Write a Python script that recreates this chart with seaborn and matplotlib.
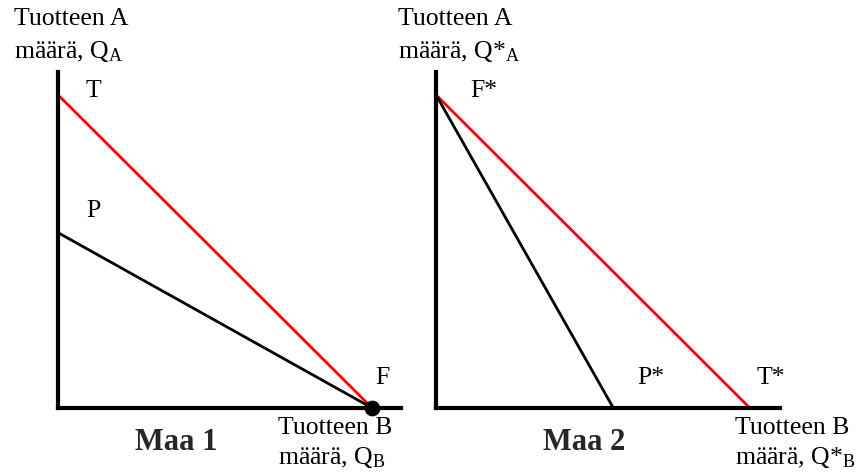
import matplotlib
matplotlib.use("Agg")
import matplotlib.pyplot as plt
import seaborn as sns

# Maa 1: tuotantomahdollisuudet (P) ja kauppasuora (T), F = erikoistumispiste
maa1_x = [0, 100]
maa1_trade_y = [100, 0]
maa1_prod_y = [56, 0]
maa1_F = (100, 0)

# Maa 2
maa2_trade_x = [0, 100]
maa2_trade_y = [100, 0]
maa2_prod_x = [0, 56.5]
maa2_prod_y = [100, 0]

sns.set_theme(style="white")
plt.rcParams["font.family"] = ["Liberation Serif", "DejaVu Serif"]
plt.rcParams["mathtext.fontset"] = "custom"
plt.rcParams["mathtext.rm"] = "Liberation Serif"
plt.rcParams["mathtext.it"] = "Liberation Serif:italic"
plt.rcParams["mathtext.bf"] = "Liberation Serif:bold"

W, H = 858, 475
fig = plt.figure(figsize=(W / 100, H / 100), dpi=100)


def px(x, y):
    return x / W, 1 - y / H


ax1 = fig.add_axes([58 / W, 67 / H, 343 / W, 336 / H])
ax2 = fig.add_axes([436 / W, 67 / H, 344 / W, 336 / H])

sns.lineplot(x=maa1_x, y=maa1_trade_y, ax=ax1, color="#ff0000", linewidth=2)
sns.lineplot(x=maa1_x, y=maa1_prod_y, ax=ax1, color="black", linewidth=2)
sns.scatterplot(x=[maa1_F[0]], y=[maa1_F[1]], ax=ax1, color="black", s=110,
                clip_on=False, zorder=5, edgecolor="black")

sns.lineplot(x=maa2_trade_x, y=maa2_trade_y, ax=ax2, color="#ff0000", linewidth=2)
sns.lineplot(x=maa2_prod_x, y=maa2_prod_y, ax=ax2, color="black", linewidth=2)

for ax, xmax in ((ax1, 109.2), (ax2, 109.6)):
    ax.set_xlim(0, xmax)
    ax.set_ylim(0, 107.3)
    ax.set_xticks([])
    ax.set_yticks([])
    for s in ("top", "right"):
        ax.spines[s].set_visible(False)
    for s in ("left", "bottom"):
        ax.spines[s].set_color("black")
        ax.spines[s].set_linewidth(3)
    ax.patch.set_alpha(0)

fs = 18.5
txt = dict(fontsize=fs, color="black", va="center", ha="left")

# akselien nimet
fig.text(*px(14, 19), "Tuotteen A", **txt)
fig.text(*px(14, 51), r"määrä, $\mathrm{Q}_\mathrm{A}$", **txt)
fig.text(*px(398, 19), "Tuotteen A", **txt)
fig.text(*px(398, 51), r"määrä, $\mathrm{Q}\text{*}_\mathrm{A}$", **txt)

fig.text(*px(278, 428), "Tuotteen B", **txt)
fig.text(*px(278, 458), r"määrä, $\mathrm{Q}_\mathrm{B}$", **txt)
fig.text(*px(735, 428), "Tuotteen B", **txt)
fig.text(*px(735, 458), r"määrä, $\mathrm{Q}\text{*}_\mathrm{B}$", **txt)

# pisteiden nimet
fig.text(*px(86, 91), "T", **txt)
fig.text(*px(86, 211), "P", **txt)
fig.text(*px(375, 378), "F", **txt)
fig.text(*px(470, 91), "F*", **txt)
fig.text(*px(637, 378), "P*", **txt)
fig.text(*px(757, 378), "T*", **txt)

fig.text(*px(135, 443), "Maa 1", fontsize=22, fontweight="bold", va="center", ha="left")
fig.text(*px(543, 443), "Maa 2", fontsize=22, fontweight="bold", va="center", ha="left")

fig.savefig("out.png", dpi=100)
